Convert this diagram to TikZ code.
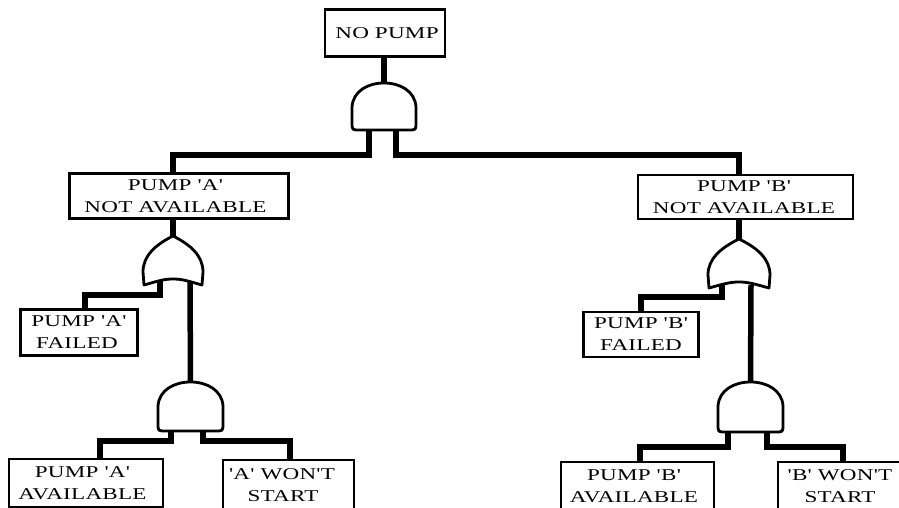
\documentclass[tikz,border=0pt]{standalone}
\usepackage{fontspec}
\setmainfont[Ligatures=TeXOff,FakeStretch=1.4,LetterSpace=1.5]{Liberation Serif}
\tikzset{
  box/.style={draw=black,line width=2.6pt,fill=white,align=center,inner sep=0pt,font=\fontsize{16.5}{22}\selectfont},
  conn/.style={draw=black,line width=5.5pt,line cap=butt,line join=miter},
  gate/.style={draw=black,line width=2.8pt,fill=white,line join=round}
}
% #1 name, #2 centre x, #3 half width, #4 top, #5 bottom
\newcommand{\andgate}[5]{%
  \coordinate (#1) at (#2,#4);
  \path[gate] ({#2-#3},{#5-4}) -- ({#2-#3},{#4+24})
    .. controls ({#2-#3+1},{#4+8}) and ({#2-#3*0.5},{#4}) .. (#2,#4)
    .. controls ({#2+#3*0.5},{#4}) and ({#2+#3-1},{#4+8}) .. ({#2+#3},{#4+24})
    -- ({#2+#3},{#5-4}) .. controls ({#2+#3},{#5-1}) and ({#2+#3-1},{#5}) .. ({#2+#3-4},{#5})
    -- ({#2-#3+4},{#5}) .. controls ({#2-#3+1},{#5}) and ({#2-#3},{#5-1}) .. ({#2-#3},{#5-4}) -- cycle;}
\newcommand{\orgate}[5]{%
  \coordinate (#1) at (#2,#4);
  \path[gate] (#2,#4)
    .. controls ({#2-#3*0.6},{#4+9}) and ({#2-#3},{#4+20}) .. ({#2-#3},{#4+36})
    -- ({#2-#3+1},{#5})
    .. controls ({#2-#3*0.5},{#5-4}) and ({#2-#3*0.3},{#5-6}) .. (#2,{#5-6})
    .. controls ({#2+#3*0.3},{#5-6}) and ({#2+#3*0.5},{#5-4}) .. ({#2+#3-1},{#5})
    -- ({#2+#3},{#4+36})
    .. controls ({#2+#3},{#4+20}) and ({#2+#3*0.6},{#4+9}) .. (#2,#4) -- cycle;}
\begin{document}
\begin{tikzpicture}[x=1pt,y=-1pt]
\useasboundingbox (0,0) rectangle (899,508);
\fill[white] (0,0) rectangle (899,508);
% boxes
\node[box,minimum width=120pt,minimum height=47pt] (top) at (385,33) {\hspace*{4pt}NO PUMP};
\node[box,minimum width=219pt,minimum height=45pt] (na) at (179,196) {\hspace*{-7pt}PUMP 'A'\\\hspace*{-7pt}NOT AVAILABLE};
\node[box,minimum width=215pt,minimum height=44pt] (nb) at (745.5,197) {\hspace*{-3pt}PUMP 'B'\\\hspace*{-3pt}NOT AVAILABLE};
\node[box,minimum width=117pt,minimum height=46pt] (fa) at (79,332.5) {PUMP 'A'\\\hspace*{-4pt}FAILED};
\node[box,minimum width=115pt,minimum height=45pt] (fb) at (641,334.5) {PUMP 'B'\\FAILED};
\node[box,minimum width=154pt,minimum height=48pt] (aa) at (86,483) {\hspace*{-7pt}PUMP 'A'\\\hspace*{-7pt}AVAILABLE};
\node[box,minimum width=131pt,minimum height=50pt] (wa) at (288.5,485) {\hspace*{-13pt}'A' WON'T\\\hspace*{-11pt}START};
\node[box,minimum width=153pt,minimum height=48pt] (ab) at (637.5,486) {\hspace*{-7pt}PUMP 'B'\\\hspace*{-7pt}AVAILABLE};
\node[box,minimum width=124pt,minimum height=48pt] (wb) at (840,486) {'B' WON'T\\START};
% gates
\andgate{g0}{384}{32}{83}{130}
\orgate{g1}{173}{30}{236}{285}
\orgate{g2}{739}{31}{239}{288}
\andgate{g3}{190.5}{32.5}{382}{431}
\andgate{g4}{750.5}{32.5}{382}{432}
% connectors
\draw[conn] (g0 |- top.south) -- (g0);
\draw[conn] (369,130) -- (369,155) -- (173,155) -- (g1 |- na.north);
\draw[conn] (396,130) -- (396,155) -- (739,155) -- (g2 |- nb.north);
\draw[conn] (g1 |- na.south) -- (g1);
\draw[conn] (g2 |- nb.south) -- (g2);
\draw[conn] (160,281) -- (160,295) -- (85,295) -- (85,308);
\draw[conn] (190,282) -- (g3);
\draw[conn] (722,284) -- (722,297) -- (641,297) -- (641,312);
\draw[conn] (751,285) -- (g4);
\draw[conn] (171,431) -- (171,441) -- (100,441) -- (100,459);
\draw[conn] (203,431) -- (203,441) -- (290,441) -- (290,460);
\draw[conn] (728,432) -- (728,447) -- (640,447) -- (640,462);
\draw[conn] (767,432) -- (767,447) -- (843,447) -- (843,462);
\end{tikzpicture}
\end{document}
